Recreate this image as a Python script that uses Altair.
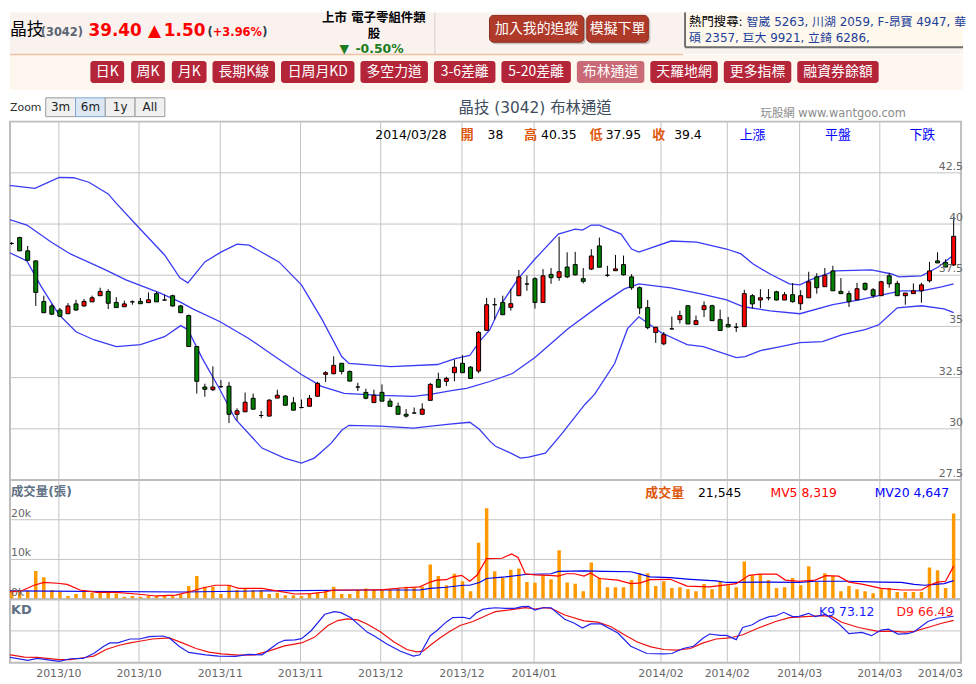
import altair as alt
import pandas as pd
import numpy as np

F = "'DejaVu Sans', 'Noto Sans CJK TC', sans-serif"
CJK = "'Noto Sans CJK TC', 'DejaVu Sans', sans-serif"

# ---------------- data ----------------
OPEN = [39.05, 39.34, 38.69, 38.20, 36.22, 36.00, 35.80, 35.62, 36.10, 36.00,
        36.20, 36.50, 36.71, 36.17, 35.96, 36.20, 36.22, 36.16, 36.60, 36.29,
        36.50, 36.00, 35.53, 34.02, 32.04, 31.91, 32.06, 32.08, 30.71, 30.83,
        31.49, 30.65, 30.62, 31.50, 31.60, 31.27, 31.04, 31.10, 31.59, 32.66,
        32.69, 33.20, 32.80, 32.04, 31.78, 31.28, 31.78, 31.35, 31.10, 30.71,
        30.77, 30.71, 31.39, 32.41, 32.32, 32.74, 33.20, 33.01, 32.82, 34.81,
        36.06, 36.17, 35.93, 36.50, 37.07, 37.33, 36.17, 37.54, 37.39, 37.90,
        38.02, 37.33, 37.80, 38.93, 37.50, 37.72, 38.02, 37.42, 36.89, 35.92,
        34.70, 34.15, 34.88, 35.33, 36.01, 35.09, 35.82, 36.01, 35.33, 35.09,
        34.96, 34.99, 36.50, 36.29, 36.40, 36.69, 36.29, 36.55, 36.11, 36.40,
        37.42, 36.94, 37.71, 36.71, 36.60, 36.30, 37.10, 36.79, 36.50, 37.47,
        37.10, 36.50, 36.60, 36.74, 37.23, 38.20, 38.12, 38.00]
HIGH = [39.12, 39.38, 38.93, 38.22, 36.50, 36.10, 35.90, 36.14, 36.30, 36.34,
        36.50, 36.89, 36.82, 36.43, 36.26, 36.27, 36.39, 36.66, 36.71, 36.55,
        36.55, 36.05, 35.58, 34.02, 32.20, 33.05, 32.38, 32.29, 31.00, 31.77,
        31.72, 30.87, 31.45, 31.91, 31.65, 31.55, 31.43, 31.65, 32.29, 32.82,
        33.54, 33.20, 32.85, 32.25, 31.96, 31.91, 32.17, 31.49, 31.28, 30.96,
        31.04, 31.25, 32.24, 32.74, 32.54, 33.38, 33.60, 33.06, 34.78, 36.39,
        36.39, 36.50, 36.84, 37.76, 37.49, 37.40, 37.80, 37.85, 39.38, 38.62,
        38.64, 37.85, 38.77, 39.34, 37.96, 38.49, 38.46, 37.55, 36.95, 36.29,
        34.96, 34.73, 35.48, 35.77, 36.01, 35.53, 36.22, 36.06, 35.82, 35.46,
        35.17, 36.79, 36.58, 36.82, 36.82, 36.74, 36.68, 37.12, 36.77, 37.67,
        37.60, 37.85, 37.96, 37.36, 36.74, 37.13, 37.15, 36.87, 37.23, 37.62,
        37.23, 36.63, 37.10, 37.13, 38.15, 38.62, 38.28, 40.35]
LOW = [38.98, 38.69, 38.20, 36.00, 35.67, 35.55, 35.47, 35.62, 35.77, 35.96,
       36.20, 36.50, 35.85, 35.90, 35.96, 36.06, 36.11, 36.16, 36.20, 36.26,
       35.96, 35.65, 34.02, 31.72, 31.57, 31.84, 32.00, 30.28, 30.40, 30.83,
       30.96, 30.52, 30.62, 31.50, 31.15, 30.91, 31.00, 31.10, 31.59, 32.29,
       32.66, 32.66, 32.33, 31.85, 31.44, 31.28, 31.35, 31.10, 30.71, 30.55,
       30.75, 30.71, 31.39, 32.03, 32.09, 32.32, 32.74, 32.46, 32.72, 34.81,
       35.33, 35.57, 35.77, 36.50, 36.74, 35.87, 36.17, 37.08, 37.23, 37.36,
       37.49, 37.10, 37.75, 37.89, 37.42, 37.72, 37.49, 36.79, 35.60, 34.86,
       34.20, 34.08, 34.85, 35.14, 35.12, 35.09, 35.46, 35.28, 34.80, 34.96,
       34.73, 34.99, 35.87, 35.90, 36.27, 36.27, 36.29, 36.16, 35.80, 36.40,
       36.60, 36.94, 36.74, 36.60, 35.95, 36.30, 36.74, 36.40, 36.50, 36.89,
       36.50, 36.06, 36.60, 36.16, 37.15, 38.10, 37.90, 37.95]
CLOSE = [39.05, 38.69, 38.23, 36.66, 35.67, 35.60, 35.50, 36.00, 35.80, 36.22,
         36.40, 36.71, 36.13, 35.92, 36.10, 36.20, 36.11, 36.30, 36.20, 36.29,
         36.00, 35.67, 34.02, 32.32, 31.93, 32.04, 32.06, 30.71, 30.88, 31.30,
         30.96, 30.65, 31.40, 31.64, 31.15, 30.91, 31.04, 31.49, 32.22, 32.74,
         33.10, 32.80, 32.33, 32.04, 31.49, 31.64, 31.35, 31.10, 30.71, 30.62,
         30.77, 30.96, 32.17, 32.03, 32.46, 33.01, 32.74, 32.46, 34.71, 36.06,
         36.06, 35.57, 36.11, 37.42, 37.07, 36.17, 37.47, 37.38, 37.67, 37.42,
         37.52, 37.20, 38.44, 37.89, 37.50, 37.81, 37.52, 36.89, 35.90, 34.94,
         34.96, 34.60, 34.88, 35.53, 35.12, 35.28, 36.01, 35.28, 34.80, 34.98,
         34.96, 36.60, 36.10, 36.40, 36.40, 36.29, 36.55, 36.21, 36.50, 37.18,
         36.89, 37.50, 36.74, 36.60, 36.21, 36.84, 36.81, 36.50, 37.18, 37.08,
         36.50, 36.63, 36.74, 37.03, 37.71, 38.10, 37.90, 39.40]
VOLUME = [2250, 2200, 2200, 7100, 5500, 2300, 1800, 800, 1300, 1800,
          1600, 1600, 1800, 1400, 600, 800, 600, 800, 800, 800,
          800, 1200, 3300, 5800, 3100, 3100, 1300, 3500, 2300, 2700,
          2300, 2300, 1300, 1600, 1000, 1000, 800, 1300, 1700, 2300,
          3100, 1300, 1300, 2300, 2700, 2300, 2500, 2500, 2700, 3100,
          2900, 3100, 8700, 5800, 3500, 6400, 4500, 2000, 14200, 22900,
          7000, 5400, 7400, 7700, 4300, 4100, 6000, 5000, 12300, 4200,
          3900, 2000, 9200, 5400, 3000, 3000, 3000, 4800, 6400, 6500,
          3300, 4500, 2800, 3000, 2500, 2000, 3800, 2500, 4500, 3500,
          3000, 9500, 6000, 6300, 4800, 2800, 3000, 5300, 3500, 8300,
          4300, 6500, 5800, 2000, 3300, 2500, 2000, 1500, 2500, 2800,
          1800, 1800, 1800, 1800, 8000, 7300, 2800, 21545]

# Bollinger bands, read at points along the lines (x = trading-day index)
BB_UP_I = [-0.4, 2.9, 5.9, 7.7, 9.6, 12.0, 12.9, 15.5, 19.0, 20.9, 21.9, 24.0, 26.0, 28.0, 29.5,
           33.2, 36.0, 38.5, 41.0, 41.9, 47.1, 52.9, 55.1, 56.9, 58.1, 59.4, 61.0, 62.9, 65.0,
           67.9, 70.0, 70.9, 72.0, 73.0, 75.7, 77.0, 77.9, 81.9, 85.1, 88.8, 90.6, 92.1, 94.2,
           96.6, 97.9, 99.2, 102.3, 106.8, 109.3, 110.2, 113.0, 115.1, 117.0]
BB_UP_V = [41.89, 41.74, 42.28, 42.26, 42.04, 41.47, 41.06, 39.95, 38.49, 37.37, 37.13, 38.15,
           38.63, 39.02, 38.97, 38.15, 37.03, 35.38, 33.53, 33.19, 33.04, 33.14, 33.43, 33.58,
           34.26, 34.84, 36.20, 37.32, 38.29, 39.51, 39.75, 39.70, 39.95, 39.95, 39.51, 38.78,
           38.63, 39.17, 39.12, 38.78, 38.54, 38.05, 37.56, 37.08, 37.03, 37.27, 37.71, 37.76,
           37.56, 37.42, 37.47, 37.90, 38.49]
BB_MID_I = [-0.4, 1.9, 4.9, 7.3, 11.4, 14.2, 18.4, 20.9, 22.5, 25.9, 29.5, 32.7, 36.0, 38.5,
            41.3, 45.8, 49.9, 52.0, 54.8, 56.5, 59.4, 62.2, 65.0, 69.1, 73.3, 76.1, 77.9, 81.9,
            85.6, 88.8, 90.9, 94.2, 97.9, 102.0, 105.3, 108.1, 110.5, 113.0, 115.5, 117.0]
BB_MID_V = [40.24, 39.95, 39.12, 38.54, 37.81, 37.27, 36.64, 36.20, 35.86, 35.23, 34.40, 33.53,
            32.65, 32.07, 31.73, 31.63, 31.58, 31.68, 31.88, 31.97, 32.31, 32.70, 33.48, 34.89,
            36.10, 36.83, 37.08, 36.88, 36.59, 36.30, 35.96, 35.76, 35.62, 36.06, 36.30, 36.54,
            36.74, 36.74, 36.93, 37.08]
BB_LO_I = [-0.4, 1.9, 3.7, 5.9, 8.0, 10.2, 13.0, 16.0, 19.0, 21.0, 21.9, 23.7, 25.8, 27.8, 31.1,
           33.9, 36.0, 37.6, 39.7, 41.0, 41.9, 45.8, 49.9, 54.1, 56.9, 58.1, 59.4, 60.1, 62.0,
           63.2, 64.2, 66.3, 68.3, 71.2, 72.4, 74.9, 76.5, 77.9, 80.7, 83.9, 85.9, 90.0, 91.1,
           93.0, 94.9, 97.9, 100.7, 103.2, 106.0, 107.7, 110.0, 113.0, 115.8, 117.0]
BB_LO_V = [38.63, 38.20, 36.93, 35.57, 34.74, 34.35, 34.01, 34.11, 34.50, 35.04, 34.84, 33.43,
           31.97, 30.47, 29.06, 28.57, 28.33, 28.57, 29.30, 29.93, 30.17, 30.13, 30.03, 30.22,
           30.32, 29.98, 29.40, 29.15, 28.81, 28.57, 28.62, 28.81, 29.74, 31.19, 31.68, 33.19,
           34.89, 35.47, 34.69, 34.11, 34.01, 33.48, 33.53, 33.82, 33.97, 34.21, 34.26, 34.60,
           34.84, 35.08, 35.91, 36.01, 35.86, 35.67]

MV5_I = [-0.4, 1.1, 2.8, 4.0, 5.7, 6.9, 8.5, 10.6, 13.0, 15.5, 18.0, 20.4, 22.0, 23.7, 25.3, 27.0,
         28.2, 31.1, 33.1, 35.2, 37.2, 38.9, 40.1, 44.2, 46.2, 48.3, 50.7, 52.0, 52.8, 54.0, 54.8,
         55.9, 56.9, 57.8, 59.0, 60.9, 62.1, 62.9, 63.8, 65.0, 66.8, 67.9, 68.9, 69.9, 71.1, 71.9,
         73.0, 75.3, 76.9, 78.1, 79.3, 81.8, 83.9, 86.7, 90.0, 91.6, 92.9, 95.0, 96.1, 97.8, 99.8,
         101.1, 102.7, 104.0, 105.6, 108.0, 110.5, 113.0, 114.0, 115.0, 116.0, 117.0]
MV5_V = [1800, 2000, 3500, 4200, 4000, 3700, 2300, 1700, 1700, 1300, 800, 1000, 1800, 2800, 3500,
         3500, 2700, 2700, 2000, 1300, 1400, 1800, 2300, 2300, 2400, 2800, 3100, 4300, 4800, 4900,
         5600, 6000, 4500, 6000, 10200, 10300, 11400, 10500, 6400, 6100, 6000, 5800, 6400, 6400,
         5800, 6600, 5200, 4800, 3900, 4100, 4900, 5000, 3300, 3100, 3900, 6000, 6300, 6300, 4800,
         4500, 4800, 5900, 5800, 4300, 3800, 2700, 2300, 2300, 3500, 4300, 4500, 8319]
MV20_I = [-0.4, 21.2, 31.9, 44.2, 50.7, 52.0, 54.0, 56.1, 56.9, 58.1, 59.0, 61.3, 63.8, 67.0, 67.9,
          71.1, 73.6, 76.9, 78.1, 79.3, 81.8, 84.3, 87.5, 88.8, 94.1, 97.8, 99.8, 103.9, 108.0,
          110.5, 112.1, 113.4, 115.8, 117.0]
MV20_V = [2100, 1800, 2100, 2300, 2300, 2700, 3000, 3500, 3500, 4200, 5200, 5600, 6200, 6400, 7000,
          7100, 7000, 6900, 6300, 5600, 5400, 5000, 4600, 4200, 4300, 4200, 4500, 4500, 4300, 4200,
          3700, 3500, 3900, 4647]

K_I = [-0.4, 2.0, 3.2, 5.9, 7.3, 8.9, 10.2, 11.4, 12.2, 13.2, 14.7, 15.9, 17.1, 18.8, 19.6, 20.8,
       22.0, 24.1, 25.7, 27.8, 29.4, 31.1, 33.1, 33.9, 35.2, 36.0, 37.2, 38.9, 40.1, 40.9, 42.1,
       44.2, 45.0, 46.6, 48.3, 49.9, 50.7, 52.0, 52.8, 54.0, 54.8, 56.1, 56.9, 57.7, 58.5, 59.3,
       60.1, 61.3, 62.5, 63.4, 64.2, 65.0, 66.0, 67.0, 68.7, 69.9, 70.9, 71.9, 73.2, 75.3, 76.9,
       78.9, 81.0, 82.0, 83.4, 84.7, 85.9, 86.7, 88.0, 88.8, 90.0, 90.8, 92.0, 92.9, 94.1, 94.9,
       95.9, 97.0, 97.8, 99.0, 99.8, 101.1, 102.7, 104.0, 105.6, 106.8, 108.0, 108.9, 110.1,
       111.3, 112.1, 113.8, 115.0, 117.0]
K_V = [8.8, 3.6, 6.7, 2.1, 6.2, 6.7, 14.5, 25.4, 31.1, 31.1, 37.3, 37.3, 41.0, 42.0, 38.9, 25.9,
       16.1, 12.4, 10.4, 9.8, 13.0, 12.4, 31.1, 35.2, 35.8, 37.8, 50.3, 76.2, 80.3, 78.8, 71.0,
       47.7, 42.5, 29.5, 18.1, 10.4, 12.4, 42.5, 50.3, 64.2, 71.0, 71.5, 68.9, 78.2, 83.9, 85.5,
       86.5, 85.5, 85.5, 88.1, 88.6, 82.9, 86.5, 86.5, 68.4, 62.2, 54.4, 61.1, 61.1, 46.6, 25.9,
       14.5, 14.0, 14.5, 22.3, 25.9, 38.9, 45.1, 43.0, 43.0, 36.3, 55.4, 59.6, 66.8, 72.5, 73.6,
       79.3, 72.5, 73.0, 77.7, 72.5, 76.2, 61.7, 45.6, 47.7, 42.5, 51.3, 52.8, 45.1, 45.6, 48.7,
       64.8, 69.9, 73.12]
D_I = [-0.4, 1.6, 3.2, 5.9, 7.3, 8.9, 10.2, 11.8, 13.4, 14.7, 15.9, 17.5, 19.6, 21.2, 22.9, 24.5,
       26.1, 28.2, 30.2, 31.9, 33.9, 36.0, 37.6, 39.3, 40.5, 41.7, 43.0, 44.2, 45.8, 47.5, 49.1,
       50.3, 51.1, 52.0, 53.2, 54.4, 55.7, 57.3, 59.3, 60.1, 62.1, 63.8, 65.0, 66.2, 67.0, 68.7,
       71.1, 72.8, 74.4, 76.1, 77.7, 79.4, 81.0, 82.6, 84.3, 85.9, 87.5, 89.2, 90.8, 92.9, 94.9,
       96.6, 98.6, 100.7, 101.9, 103.1, 105.2, 107.6, 109.3, 110.9, 112.1, 114.2, 115.4, 117.0]
D_V = [13.0, 8.8, 8.3, 4.7, 4.7, 7.8, 10.4, 21.2, 27.5, 31.1, 33.7, 37.3, 38.9, 31.1, 22.3, 16.6,
       14.0, 11.9, 12.4, 18.1, 26.4, 31.1, 39.9, 58.5, 66.3, 68.9, 67.4, 60.6, 48.7, 32.6, 20.7,
       17.1, 18.1, 27.5, 38.9, 49.2, 58.5, 64.8, 76.2, 80.3, 83.4, 86.5, 84.5, 86.5, 85.5, 75.1,
       65.8, 63.7, 57.0, 44.0, 32.6, 24.9, 20.7, 19.7, 22.3, 31.1, 37.3, 38.9, 44.0, 55.4, 64.8,
       71.0, 72.5, 74.1, 72.5, 63.7, 55.4, 49.2, 49.7, 48.2, 49.2, 57.0, 61.7, 66.49]

TICK_I = [5.87, 15.83, 25.92, 35.88, 45.84, 55.93, 64.9, 80.65, 88.89, 97.87, 107.83, 117.92]
TICK_LABELS = ['2013/10', '2013/10', '2013/11', '2013/11', '2013/12', '2013/12',
               '2014/01', '2014/02', '2014/02', '2014/03', '2014/03', '2014/03']
PRICE_TICKS = [27.5, 30, 32.5, 35, 37.5, 40, 42.5]
PRICE_LABELS = ['27.5', '30', '32.5', '35', '37.5', '40', '42.5']
VOL_TICKS = [0, 10000, 20000]
VOL_LABELS = ['0k', '10k', '20k']
KD_GRID = [50]

BUTTONS = ['日K', '周K', '月K', '長期K線', '日周月KD', '多空力道', '3-6差離', '5-20差離',
           '布林通道', '天羅地網', '更多指標', '融資券餘額']
ZOOM_BTNS = ['3m', '6m', '1y', 'All']

# ---------------- layout / style ----------------
W = 958
H_HEAD, H_PRICE, H_VOL, H_KD = 110, 361, 120, 64
XDOM = [-0.2, 117.92]
GRID = '#C4C4C4'
ORANGE = '#E0570B'
SLATE = '#5E7083'
BAND = '#3A3AF4'

ONE = pd.DataFrame({'z': [0]})


def T(s, x, y, size=12, color='#000000', bold=False, align='left', baseline='middle', font=F):
    return alt.Chart(ONE).mark_text(text=s, align=align, baseline=baseline, fontSize=size,
                                    color=color, fontWeight='bold' if bold else 'normal',
                                    font=font).encode(x=alt.value(x), y=alt.value(y))


def R(x1, x2, y1, y2, fill, stroke=None, sw=1, radius=0, opacity=1.0):
    kw = dict(fill=fill, cornerRadius=radius, opacity=opacity)
    if stroke:
        kw.update(stroke=stroke, strokeWidth=sw)
    return alt.Chart(ONE).mark_rect(**kw).encode(
        x=alt.value(x1), x2=alt.value(x2), y=alt.value(y1), y2=alt.value(y2))


def L(x1, x2, y1, y2, color, w=1):
    return alt.Chart(ONE).mark_rule(color=color, strokeWidth=w).encode(
        x=alt.value(x1), x2=alt.value(x2), y=alt.value(y1), y2=alt.value(y2))


# ---------------- header ----------------
hdr = [
    R(0, 960, 0, 42, '#F9F2EF'),
    R(0, 960, 43, 78, '#FEF7EF'),
    L(0, 678, 42.5, 42.5, '#F0C2A5', 1.5),
    L(428, 428, 0, 42, '#DCCBD2', 1),
    R(680, 960, 0, 35, '#FFF8EC'),
    L(680, 680, 0, 35, '#6E6E6E', 2),
    L(680, 960, 35, 35, '#6E6E6E', 2),
    T('晶技', 0, 23, size=17, baseline='alphabetic', font=CJK),
    T('(3042)', 31, 24, size=11.5, color='#5B6573', bold=True, baseline='alphabetic'),
    T('39.40', 79, 24, size=17, color='#FF0000', bold=True, baseline='alphabetic'),
    T('▲', 139, 24, size=17, color='#FF0000', baseline='alphabetic'),
    T('1.50', 155, 24, size=17, color='#FF0000', bold=True, baseline='alphabetic'),
    T('(', 199, 24, size=11.5, color='#2E3A4C', bold=True, baseline='alphabetic'),
    T('+3.96%', 204.3, 24, size=11.5, color='#FF0000', bold=True, baseline='alphabetic'),
    T(')', 254, 24, size=11.5, color='#2E3A4C', bold=True, baseline='alphabetic'),
    T('上市 電子零組件類', 366.5, 6, size=12.5, bold=True, align='center'),
    T('股', 366.5, 21.5, size=12.5, bold=True, align='center'),
    T('▼', 332, 36.5, size=12.5, color='#1B7D1B'),
    T('-0.50%', 348, 36.5, size=12.5, color='#1B7D1B', bold=True),
    R(485, 580, 5, 32, '#A0A0A0', radius=4, opacity=0.6),
    R(483, 578, 3, 30, '#B03A2A', stroke='#8A2A1C', radius=4),
    T('加入我的追蹤', 530.5, 16.5, size=14, color='#FFFFFF', align='center', font=CJK),
    R(583, 645, 5, 32, '#A0A0A0', radius=4, opacity=0.6),
    R(581, 643, 3, 30, '#B03A2A', stroke='#8A2A1C', radius=4),
    T('模擬下單', 612, 16.5, size=14, color='#FFFFFF', align='center', font=CJK),
    T('熱門搜尋:', 684, 9.5, size=12.5),
    T('智崴 5263, 川湖 2059, F-昂寶 4947, 華', 742, 9.5, size=12, color='#1B3E9A'),
    T('碩 2357, 巨大 9921, 立錡 6286,', 684, 25.5, size=12, color='#1B3E9A'),
]
btn_x = [(89, 123), (130, 164), (171, 206), (212, 275), (281, 355), (361, 429), (435, 497),
         (503, 573), (579, 647), (653, 721), (727, 795), (801, 883)]
for lab, (a, b) in zip(BUTTONS, btn_x):
    fill = '#C96A76' if lab == '布林通道' else '#B4253A'
    hdr.append(R(a - 8, b - 8, 49, 71, fill, radius=3))
    hdr.append(T(lab, (a + b) / 2 - 8, 60, size=14, color='#FFFFFF', align='center', font=CJK))
hdr.append(T('Zoom', 0, 96, size=11, color='#333333'))
for k, lab in enumerate(ZOOM_BTNS):
    a = 36 + 30 * k
    sel = lab == '6m'
    hdr.append(R(a, a + 30, 86, 105, '#DCE7F4' if sel else '#F0F0F0',
                 stroke='#7FA5D6' if sel else '#9A9A9A'))
    hdr.append(T(lab, a + 15, 95.5, size=12, color='#222222', align='center'))
hdr.append(T('晶技 (3042) 布林通道', 529, 96, size=15.5, color='#3F4E5E', align='center'))
hdr.append(T('玩股網 www.wantgoo.com', 756, 102, size=11.5, color='#8A8A8A'))

header = alt.layer(*hdr).properties(width=W, height=H_HEAD,
                                    view=alt.ViewBackground(stroke='transparent'))

# ---------------- shared pieces ----------------
xs = alt.Scale(domain=XDOM, nice=False, zero=False, padding=0)
X = alt.X('i:Q', scale=xs, axis=None)


def vgrid():
    return alt.Chart(pd.DataFrame({'i': TICK_I})).mark_rule(color=GRID, strokeWidth=1).encode(x=X)


def hgrid(vals, ys):
    return alt.Chart(pd.DataFrame({'v': vals})).mark_rule(color=GRID, strokeWidth=1).encode(
        y=alt.Y('v:Q', scale=ys, axis=None))


def line(I, V, ys, color, w=1.2):
    return alt.Chart(pd.DataFrame({'i': I, 'v': V})).mark_line(
        color=color, strokeWidth=w, clip=True).encode(x=X, y=alt.Y('v:Q', scale=ys, axis=None))


# ---------------- price panel ----------------
yp = alt.Scale(domain=[27.5, 45], nice=False, zero=False, padding=0)
cdf = pd.DataFrame({'i': np.arange(len(OPEN)), 'open': OPEN, 'high': HIGH, 'low': LOW,
                    'close': CLOSE})
cdf['dir'] = np.where(cdf['close'] > cdf['open'], 'up',
                      np.where(cdf['close'] < cdf['open'], 'down', 'flat'))

wick = alt.Chart(cdf).mark_rule(color='#000000', strokeWidth=1, clip=True).encode(
    x=X, y=alt.Y('low:Q', scale=yp, axis=None), y2='high:Q')
body = alt.Chart(cdf).mark_bar(size=4, stroke='#000000', strokeWidth=1, clip=True).encode(
    x=X, y=alt.Y('open:Q', scale=yp, axis=None), y2='close:Q',
    color=alt.Color('dir:N', scale=alt.Scale(domain=['up', 'down', 'flat'],
                                             range=['#FF0000', '#008000', '#000000']),
                    legend=None))
plabels = alt.Chart(pd.DataFrame({'v': PRICE_TICKS, 't': PRICE_LABELS})).mark_text(
    align='right', baseline='alphabetic', dy=-3, fontSize=11, color='#666666', font=F).encode(
    x=alt.value(960), y=alt.Y('v:Q', scale=yp, axis=None), text='t:N')

pann = [
    T('2014/03/28', 368, 14, size=12.5),
    T('開', 454, 14, size=13, color=ORANGE, bold=True, font=CJK),
    T('38', 481, 14, size=12.5),
    T('高', 518, 14, size=13, color=ORANGE, bold=True, font=CJK),
    T('40.35', 535, 14, size=12.5),
    T('低', 584, 14, size=13, color=ORANGE, bold=True, font=CJK),
    T('37.95', 600, 14, size=12.5),
    T('收', 647, 14, size=13, color=ORANGE, bold=True, font=CJK),
    T('39.4', 669, 14, size=12.5),
    T('上漲', 735, 14, size=13, color='#0000FF', font=CJK),
    T('平盤', 821, 14, size=13, color='#0000FF', font=CJK),
    T('下跌', 906, 14, size=13, color='#0000FF', font=CJK),
]

price = alt.layer(
    vgrid(), hgrid(PRICE_TICKS[1:], yp),
    line(BB_UP_I, BB_UP_V, yp, BAND, 1.3), line(BB_MID_I, BB_MID_V, yp, BAND, 1.3),
    line(BB_LO_I, BB_LO_V, yp, BAND, 1.3),
    wick, body, plabels, *pann
).properties(width=W, height=H_PRICE)

# ---------------- volume panel ----------------
yv = alt.Scale(domain=[0, 30000], nice=False, zero=True, padding=0)
vdf = pd.DataFrame({'i': np.arange(len(VOLUME)), 'vol': VOLUME})
vbars = alt.Chart(vdf).mark_bar(size=3.5, color='#FF9900', clip=True).encode(
    x=X, y=alt.Y('vol:Q', scale=yv, axis=None))
vlabels = alt.Chart(pd.DataFrame({'v': VOL_TICKS, 't': VOL_LABELS})).mark_text(
    align='left', baseline='alphabetic', dy=-3, fontSize=11, color='#666666', font=F).encode(
    x=alt.value(1), y=alt.Y('v:Q', scale=yv, axis=None), text='t:N')
vann = [
    T('成交量(張)', 1, 12, size=12.5, color=SLATE, bold=True),
    T('成交量', 640, 13, size=13, color=ORANGE, bold=True, font=CJK),
    T('21,545', 693, 13, size=12.5),
    T('MV5 8,319', 766, 13, size=12.5, color='#FF0000'),
    T('MV20 4,647', 871, 13, size=12.5, color='#0000FF'),
]
vol = alt.layer(
    vgrid(), hgrid(VOL_TICKS[1:], yv), vbars,
    line(MV20_I, MV20_V, yv, '#0000EE'), line(MV5_I, MV5_V, yv, '#FF0000'),
    vlabels, *vann
).properties(width=W, height=H_VOL)

# ---------------- KD panel ----------------
yk = alt.Scale(domain=[0, 100], nice=False, zero=True, padding=0)
tdf = pd.DataFrame({'i': TICK_I, 't': TICK_LABELS})
xl_main = alt.Chart(tdf.iloc[:-1]).mark_text(
    align='center', baseline='top', fontSize=11, color='#666666', font=F).encode(
    x=X, y=alt.value(H_KD + 5), text='t:N')
xl_last = alt.Chart(tdf.iloc[-1:]).mark_text(
    align='right', baseline='top', dx=2, fontSize=11, color='#666666', font=F).encode(
    x=X, y=alt.value(H_KD + 5), text='t:N')
kann = [
    T('KD', 1, 11, size=13, color=SLATE, bold=True),
    T('K9 73.12', 815, 13, size=12.5, color='#1A1AFF'),
    T('D9 66.49', 893, 13, size=12.5, color='#FF1A1A'),
]
kd = alt.layer(
    vgrid(), hgrid(KD_GRID, yk),
    line(D_I, D_V, yk, '#EE1111'), line(K_I, K_V, yk, '#2222EE'),
    xl_main, xl_last, *kann
).properties(width=W, height=H_KD)

chart = alt.vconcat(header, price, vol, kd, spacing=0, bounds='flush').properties(
    padding=0).configure_view(stroke='#BDBDBD', strokeWidth=2)

chart.save("out.html", embed_options={"renderer": "svg", "actions": False})
